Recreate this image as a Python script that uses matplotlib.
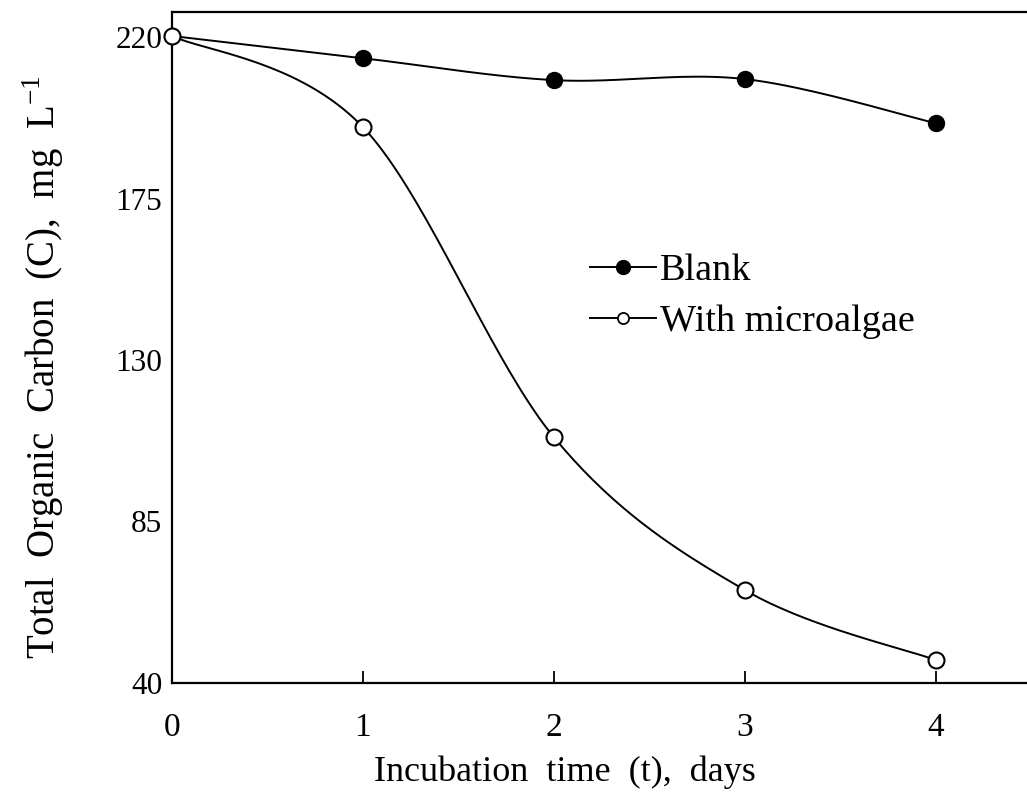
import numpy as np
import matplotlib
matplotlib.use("Agg")
import matplotlib.pyplot as plt
from matplotlib.lines import Line2D

plt.rcParams['font.family'] = ['Liberation Serif', 'DejaVu Serif']
plt.rcParams['mathtext.fontset'] = 'custom'
plt.rcParams['mathtext.rm'] = 'Liberation Serif'

days = [0, 1, 2, 3, 4]
blank = [220.3, 214.1, 208.0, 208.3, 196.0]
microalgae = [220.3, 194.9, 108.5, 65.9, 46.4]

x_ticks = [0, 1, 2, 3, 4]
y_ticks = [40, 85, 130, 175, 220]

# pixel scale of the axes, used so the smoothing behaves like a spreadsheet chart
SX, SY = 190.7, 3.589


def smooth(xs, ys, n=40):
    p = np.column_stack([np.asarray(xs, float) * SX, np.asarray(ys, float) * SY])
    p = np.vstack([p[0], p, p[-1]])
    out = []
    for i in range(1, len(p) - 2):
        p0, p1, p2, p3 = p[i - 1], p[i], p[i + 1], p[i + 2]
        c1 = p1 + (p2 - p0) / 6.0
        c2 = p2 - (p3 - p1) / 6.0
        t = np.linspace(0, 1, n)[:, None]
        seg = ((1 - t) ** 3) * p1 + 3 * ((1 - t) ** 2) * t * c1 + 3 * (1 - t) * t ** 2 * c2 + t ** 3 * p2
        out.append(seg if i == 1 else seg[1:])
    out = np.vstack(out)
    return out[:, 0] / SX, out[:, 1] / SY


fig = plt.figure(figsize=(10.27, 7.96), dpi=100)
ax = fig.add_axes([0.1675, 0.142, 0.8365, 0.843])

sx, sy = smooth(days, blank)
ax.plot(sx, sy, color='black', lw=1.4, zorder=2)
ax.plot(days, blank, 'o', color='black', ms=11.5, zorder=3, clip_on=False)

sx, sy = smooth(days, microalgae)
ax.plot(sx, sy, color='black', lw=1.4, zorder=2)
ax.plot(days, microalgae, 'o', mfc='white', mec='black', mew=1.5, ms=11.5, zorder=3, clip_on=False)

ax.set_xlim(0, 4.5)
ax.set_ylim(40, 227)
ax.set_xticks(x_ticks)
ax.set_yticks(y_ticks)
ax.tick_params(axis='x', direction='in', length=9, width=1.3, labelsize=24, pad=21)
ax.tick_params(axis='y', length=0, labelsize=22.5, pad=7)
for s in ['left', 'bottom', 'top']:
    ax.spines[s].set_linewidth(1.6)
ax.spines['right'].set_visible(False)

ax.set_xlabel('Incubation  time  (t),  days', fontsize=26)
ax.xaxis.set_label_coords(0.457, -0.108)
ax.set_ylabel('Total  Organic  Carbon  (C),  mg  L$^{-1}$', fontsize=28)
ax.yaxis.set_label_coords(-0.123, 0.47)

handles = [
    Line2D([], [], color='black', lw=1.4, marker='o', ms=10, mfc='black', mec='black'),
    Line2D([], [], color='black', lw=1.4, marker='o', ms=8, mfc='white', mec='black', mew=1.3),
]
ax.legend(handles, ['Blank', 'With microalgae'], loc='upper left', bbox_to_anchor=(0.487, 0.64),
          frameon=False, fontsize=27.5, handlelength=1.72, handletextpad=0.1, labelspacing=0.42,
          borderaxespad=0, borderpad=0)

fig.savefig('out.png', dpi=100)
